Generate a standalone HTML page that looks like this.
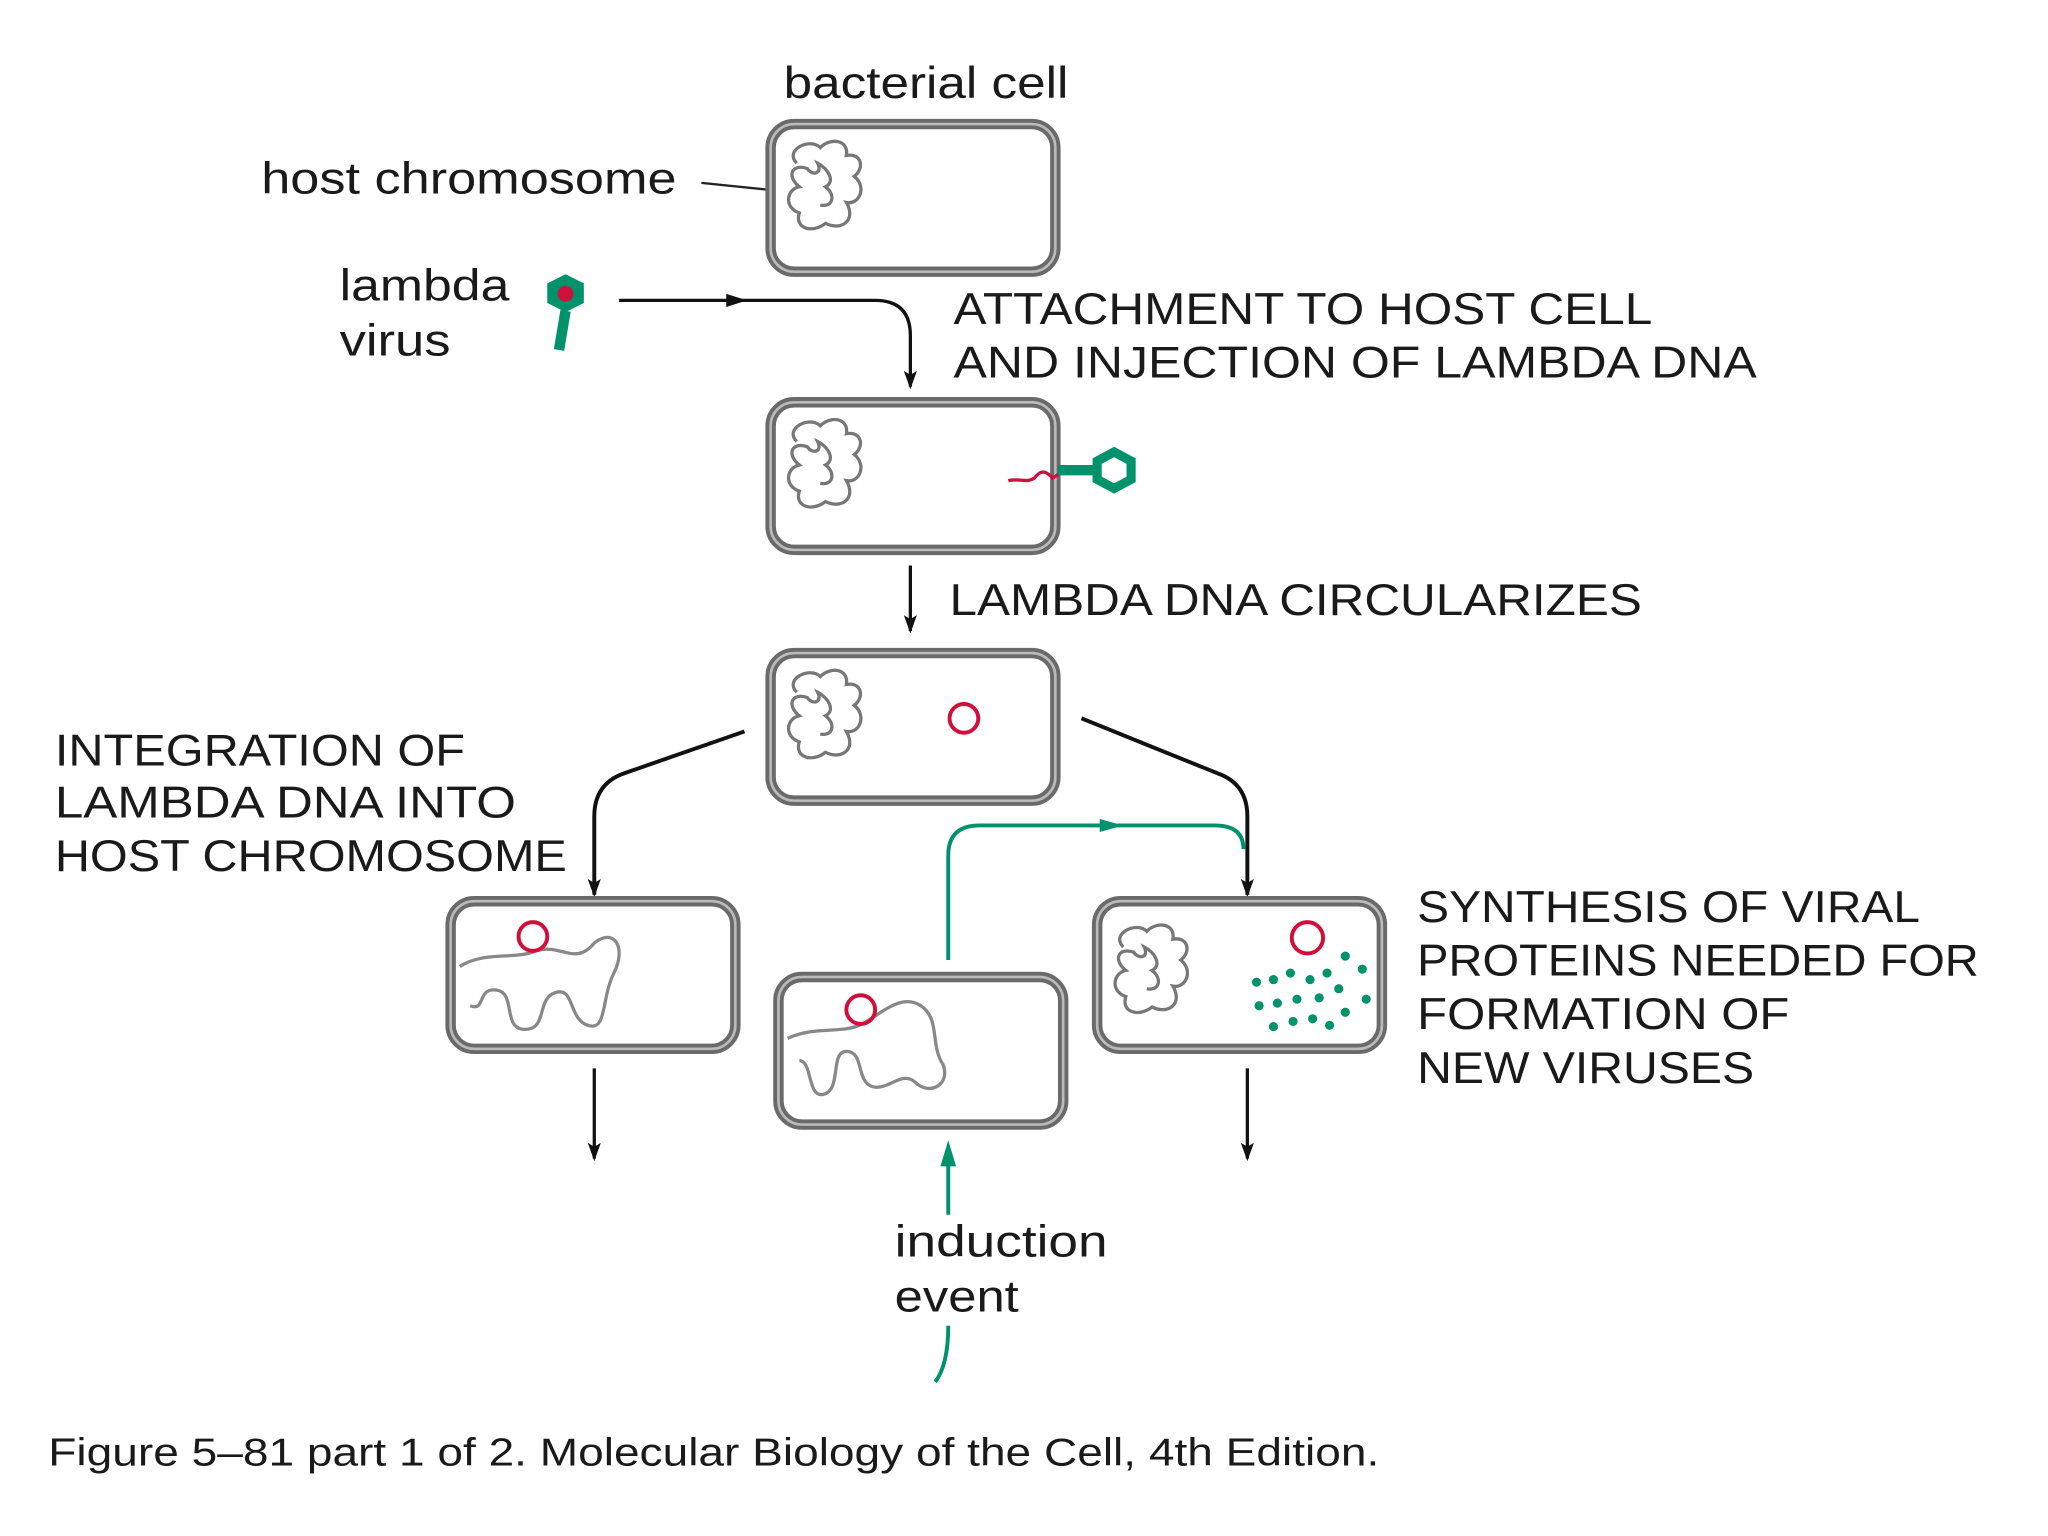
<!DOCTYPE html>
<html><head><meta charset="utf-8"><style>
html,body{margin:0;padding:0;background:#fff;}
svg{display:block;}
text{font-family:"Liberation Sans",sans-serif;fill:#1a1a1a;}
</style></head><body>
<svg width="2048" height="1536" viewBox="0 0 1568 1176" preserveAspectRatio="none" xmlns="http://www.w3.org/2000/svg">
<defs>
<marker id="ah" markerWidth="14" markerHeight="10" refX="12" refY="5" orient="auto" markerUnits="userSpaceOnUse" viewBox="0 0 14 10"><path d="M0,0 L14,5 L0,10 L3,5 Z" fill="#111"/></marker>
<g id="cell"><rect x="0" y="0" width="218" height="113" rx="18" fill="#fff" stroke="#6a6a6a" stroke-width="8"/><rect x="0" y="0" width="218" height="113" rx="18" fill="none" stroke="#bbb" stroke-width="2"/></g>
<path id="chr" d="M10,20 C0,10 20,0 28,8 C36,0 50,2 48,14 C60,12 62,24 54,30 C64,38 58,52 48,50 C56,64 44,72 32,66 C22,74 8,70 12,58 C0,54 2,40 12,38 C2,30 6,20 18,24 C22,30 30,28 26,20 C34,24 40,34 32,38 C40,44 38,54 28,52" fill="none" stroke="#777" stroke-width="2.5"/>
</defs>
<rect width="1568" height="1176" fill="#fff"/>

<text x="600" y="75" font-size="34" textLength="218" lengthAdjust="spacingAndGlyphs">bacterial cell</text>
<text x="200" y="148" font-size="34" textLength="318" lengthAdjust="spacingAndGlyphs">host chromosome</text>
<line x1="537" y1="140" x2="605" y2="147" stroke="#222" stroke-width="1.8"/>
<text x="260" y="230" font-size="34" textLength="130" lengthAdjust="spacingAndGlyphs">lambda</text>
<text x="260" y="272" font-size="34" textLength="85" lengthAdjust="spacingAndGlyphs">virus</text>

<use href="#cell" x="590" y="95"/>
<use href="#chr" x="600" y="105"/>
<polygon points="433,210 447,217 447,232 433,239 419,232 419,217" fill="#00936b"/>
<circle cx="433" cy="225" r="6" fill="#d0103a"/>
<line x1="433" y1="238" x2="428" y2="268" stroke="#00936b" stroke-width="8"/>

<path d="M474,230 L670,230 Q697,230 697,257 L697,296" fill="none" stroke="#111" stroke-width="2.5" marker-end="url(#ah)"/>
<path d="M556,225 L572,230 L556,235 Z" fill="#111"/>
<text x="730" y="248" font-size="34" textLength="535" lengthAdjust="spacingAndGlyphs">ATTACHMENT TO HOST CELL</text>
<text x="730" y="289" font-size="34" textLength="615" lengthAdjust="spacingAndGlyphs">AND INJECTION OF LAMBDA DNA</text>

<use href="#cell" x="590" y="308"/>
<use href="#chr" x="600" y="318"/>
<path d="M772,368 C782,366 786,370 792,366 C798,358 802,362 806,366 L812,362" fill="none" stroke="#d0103a" stroke-width="2.5"/>
<line x1="810" y1="360" x2="842" y2="360" stroke="#00936b" stroke-width="8"/>
<polygon points="853,346 866,353 866,367 853,374 840,367 840,353" fill="none" stroke="#00936b" stroke-width="7"/>

<line x1="697" y1="433" x2="697" y2="483" stroke="#111" stroke-width="2.5" marker-end="url(#ah)"/>
<text x="727" y="471" font-size="34" textLength="530" lengthAdjust="spacingAndGlyphs">LAMBDA DNA CIRCULARIZES</text>

<use href="#cell" x="590" y="500"/>
<use href="#chr" x="600" y="510"/>
<circle cx="738" cy="550" r="11" fill="none" stroke="#d0103a" stroke-width="3"/>

<text x="42" y="586" font-size="34" textLength="314" lengthAdjust="spacingAndGlyphs">INTEGRATION OF</text>
<text x="42" y="626" font-size="34" textLength="353" lengthAdjust="spacingAndGlyphs">LAMBDA DNA INTO</text>
<text x="42" y="667" font-size="34" textLength="392" lengthAdjust="spacingAndGlyphs">HOST CHROMOSOME</text>

<path d="M570,560 L478,592 Q455,600 455,625 L455,685" fill="none" stroke="#111" stroke-width="3" marker-end="url(#ah)"/>
<path d="M828,550 L932,592 Q955,600 955,625 L955,685" fill="none" stroke="#111" stroke-width="3" marker-end="url(#ah)"/>
<path d="M726,735 L726,655 Q726,632 750,632 L930,632 Q952,632 952,650" fill="none" stroke="#00936b" stroke-width="3"/>
<path d="M842,627 L860,632 L842,637 Z" fill="#00936b"/>

<use href="#cell" x="345" y="690"/>
<path d="M352,740 C370,728 395,735 410,728 C430,722 440,740 455,722 C470,710 480,725 470,745 C460,765 465,790 450,785 C435,780 440,755 425,760 C410,765 420,790 400,788 C385,786 395,760 380,758 C365,756 372,775 360,770" fill="none" stroke="#888" stroke-width="2.5"/>
<circle cx="408" cy="717" r="11" fill="none" stroke="#d0103a" stroke-width="3"/>
<use href="#cell" x="596" y="748"/>
<path d="M603,795 C625,785 645,792 660,784 C675,776 690,760 705,770 C720,780 712,800 722,815 C728,830 712,840 700,828 C690,820 680,835 668,832 C655,828 662,805 648,805 C635,805 645,835 630,838 C618,840 622,812 612,812" fill="none" stroke="#888" stroke-width="2.5"/>
<circle cx="659" cy="773" r="11" fill="none" stroke="#d0103a" stroke-width="3"/>
<use href="#cell" x="840" y="690"/>
<use href="#chr" x="850" y="705"/>
<circle cx="1001" cy="718" r="12" fill="none" stroke="#d0103a" stroke-width="3"/>
<g fill="#00936b">
<circle cx="1030" cy="732" r="3.5"/><circle cx="1043" cy="742" r="3.5"/><circle cx="1016" cy="745" r="3.5"/><circle cx="1003" cy="750" r="3.5"/><circle cx="988" cy="745" r="3.5"/><circle cx="975" cy="750" r="3.5"/><circle cx="962" cy="752" r="3.5"/><circle cx="1025" cy="757" r="3.5"/><circle cx="1046" cy="765" r="3.5"/><circle cx="1010" cy="764" r="3.5"/><circle cx="993" cy="765" r="3.5"/><circle cx="978" cy="768" r="3.5"/><circle cx="964" cy="770" r="3.5"/><circle cx="1030" cy="775" r="3.5"/><circle cx="1005" cy="780" r="3.5"/><circle cx="990" cy="782" r="3.5"/><circle cx="975" cy="786" r="3.5"/><circle cx="1018" cy="785" r="3.5"/>
</g>

<text x="1085" y="706" font-size="34" textLength="385" lengthAdjust="spacingAndGlyphs">SYNTHESIS OF VIRAL</text>
<text x="1085" y="747" font-size="34" textLength="430" lengthAdjust="spacingAndGlyphs">PROTEINS NEEDED FOR</text>
<text x="1085" y="788" font-size="34" textLength="285" lengthAdjust="spacingAndGlyphs">FORMATION OF</text>
<text x="1085" y="829" font-size="34" textLength="258" lengthAdjust="spacingAndGlyphs">NEW VIRUSES</text>

<line x1="455" y1="818" x2="455" y2="887" stroke="#111" stroke-width="2.5" marker-end="url(#ah)"/>
<line x1="955" y1="818" x2="955" y2="887" stroke="#111" stroke-width="2.5" marker-end="url(#ah)"/>

<line x1="726" y1="930" x2="726" y2="885" stroke="#00936b" stroke-width="3"/>
<path d="M720,893 L726,873 L732,893 Z" fill="#00936b"/>
<path d="M726,1015 Q726,1045 716,1058" fill="none" stroke="#00936b" stroke-width="3"/>
<text x="685" y="962" font-size="34" textLength="163" lengthAdjust="spacingAndGlyphs">induction</text>
<text x="685" y="1004" font-size="34" textLength="95" lengthAdjust="spacingAndGlyphs">event</text>

<text x="37" y="1122" font-size="30" textLength="1019" lengthAdjust="spacingAndGlyphs">Figure 5–81 part 1 of 2. Molecular Biology of the Cell, 4th Edition.</text>
</svg>
</body></html>
